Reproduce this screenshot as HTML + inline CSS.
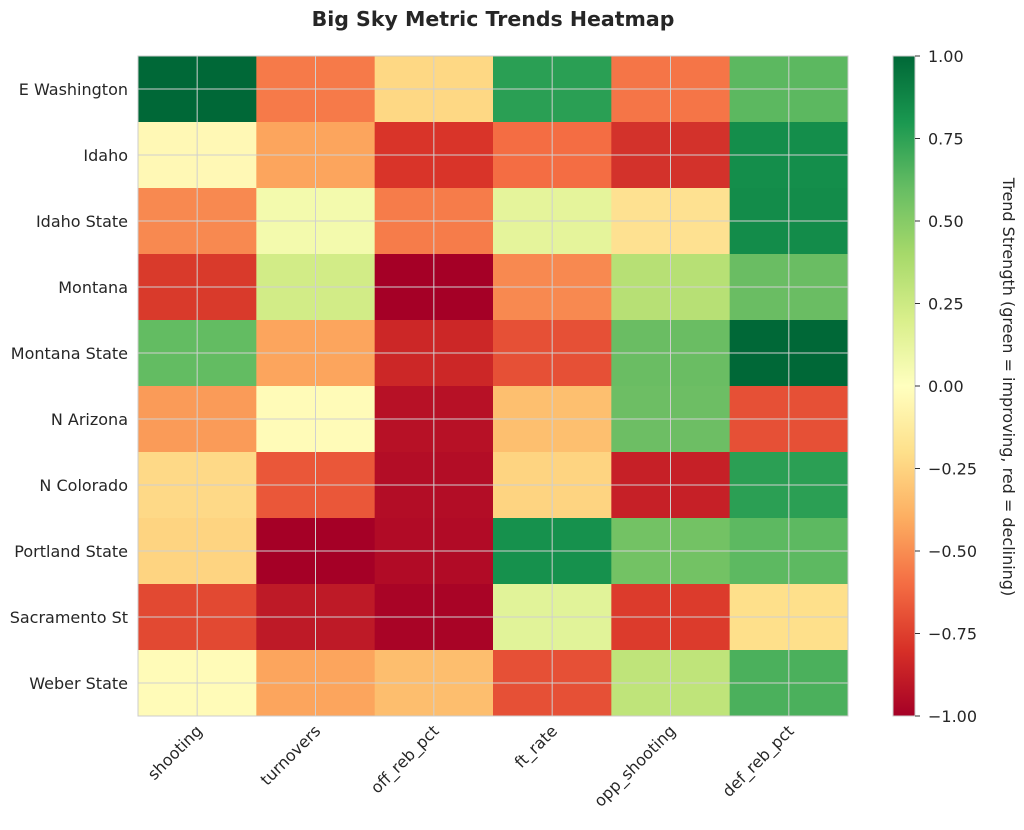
<!DOCTYPE html>
<html><head><meta charset="utf-8"><style>
body{margin:0;background:#fff;}
text{font-family:"DejaVu Sans","Liberation Sans",sans-serif;fill:#262626;}
</style></head><body>
<svg width="1024" height="825" viewBox="0 0 1024 825" xmlns="http://www.w3.org/2000/svg">
<defs>
<linearGradient id="cb" x1="0" y1="1" x2="0" y2="0">
<stop offset="0" stop-color="#a50026"/><stop offset="0.1" stop-color="#d73027"/><stop offset="0.2" stop-color="#f46d43"/><stop offset="0.3" stop-color="#fdae61"/><stop offset="0.4" stop-color="#fee08b"/><stop offset="0.5" stop-color="#ffffbf"/><stop offset="0.6" stop-color="#d9ef8b"/><stop offset="0.7" stop-color="#a6d96a"/><stop offset="0.8" stop-color="#66bd63"/><stop offset="0.9" stop-color="#1a9850"/><stop offset="1" stop-color="#006837"/>
</linearGradient>
</defs>
<text x="493" y="26" font-size="20.5" font-weight="bold" text-anchor="middle">Big Sky Metric Trends Heatmap</text>
<g id="cells"></g>
<g stroke="#d0d0d0" stroke-width="1" id="grid"></g>
<rect x="138" y="56" width="710" height="660" fill="none" stroke="#ccc"/>
<g font-size="16" text-anchor="end" id="ylab"></g>
<g font-size="16" text-anchor="end" id="xlab"></g>
<rect x="893" y="56" width="22" height="660" fill="url(#cb)" stroke="#ccc"/>
<g font-size="16" id="cbt"></g>
<text transform="translate(1003,387) rotate(90)" font-size="16" text-anchor="middle">Trend Strength (green = improving, red = declining)</text>
</svg>
<script>
const C=[
["#006837","#f67a49","#fed884","#2a9f54","#f57547","#5cb860"],
["#fff8b5","#fca55d","#d93429","#f46d43","#d3322b","#148e4b"],
["#f88950","#f3faad","#f67c4a","#e5f49b","#fee191","#138c4a"],
["#d93a2b","#d2ec87","#a50026","#f88950","#b7e075","#6abd63"],
["#63bc62","#fca55d","#cc2727","#e65036","#6abd63","#006837"],
["#fa9b58","#fffbb8","#b71126","#fdbf6f","#6dbe64","#e65036"],
["#fed987","#ea5739","#b30d26","#fed481","#c62027","#2b9f54"],
["#fed481","#a50026","#b10b26","#16914d","#73c264","#5db961"],
["#e24932","#be1a27","#a90426","#e1f399","#dc3b2c","#fee08b"],
["#fffbb8","#fca55d","#fdbe6e","#e65036","#bfe47a","#4bb05c"]];
const rows=["E Washington","Idaho","Idaho State","Montana","Montana State","N Arizona","N Colorado","Portland State","Sacramento St","Weber State"];
const cols=["shooting","turnovers","off_reb_pct","ft_rate","opp_shooting","def_reb_pct"];
const ns="http://www.w3.org/2000/svg";
function el(p,t,a,txt){const e=document.createElementNS(ns,t);for(const k in a)e.setAttribute(k,a[k]);if(txt)e.textContent=txt;document.getElementById(p).appendChild(e);}
const cw=710/6,rh=66;
C.forEach((r,i)=>r.forEach((c,j)=>el("cells","rect",{x:138+j*cw,y:56+i*rh,width:cw+0.5,height:rh+0.5,fill:c})));
for(let i=0;i<10;i++){const y=56+rh*(i+.5);el("grid","line",{x1:138,x2:848,y1:y,y2:y});el("ylab","text",{x:128,y:y+6},rows[i]);}
for(let j=0;j<6;j++){const x=138+cw*(j+.5);el("grid","line",{x1:x,x2:x,y1:56,y2:716});el("xlab","text",{transform:`translate(${x+6},${732}) rotate(-45)`},cols[j]);}
["1.00","0.75","0.50","0.25","0.00","−0.25","−0.50","−0.75","−1.00"].forEach((t,k)=>{const y=56+k*82.5;el("cbt","line",{x1:915,x2:920,y1:y,y2:y,stroke:"#333"});el("cbt","text",{x:928,y:y+6},t);});
</script>
</body></html>
